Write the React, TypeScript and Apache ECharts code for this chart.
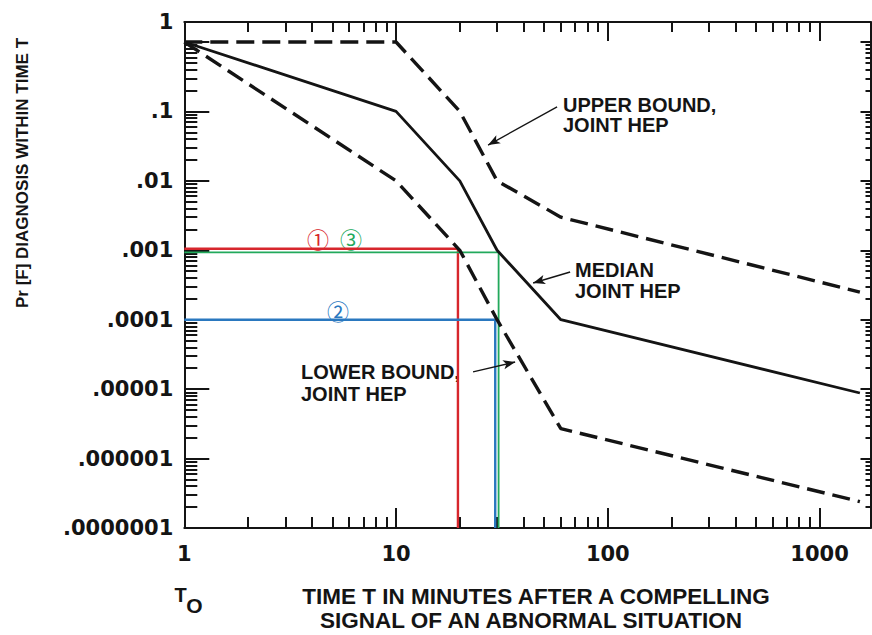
import React, { useEffect, useRef } from 'react';
import * as echarts from 'echarts';

// ---- data (time in minutes, probability of failure) ----
const timeMinutes = [1, 10, 20, 30, 60, 1550];
const upperBoundHEP = [1, 1, 0.1, 0.01, 0.003, 0.00025];
const medianHEP = [1, 0.1, 0.01, 0.001, 0.0001, 0.0000088];
const lowerBoundHEP = [1, 0.01, 0.001, 0.0001, 0.0000027, 0.00000024];

// coloured read-off guides (case 1 red, case 2 blue, case 3 green)
const case1Time = [1, 19.6, 19.6];
const case1Prob = [0.00105, 0.00105, 0.0000001];
const case2Time = [1, 29.4, 29.4];
const case2Prob = [0.0001, 0.0001, 0.0000001];
const case3Time = [1, 30.5, 30.5];
const case3Prob = [0.00093, 0.00093, 0.0000001];

// annotation arrows [fromTime, fromProb, toTime, toProb]
const upperArrow = [57.6, 0.116, 27.2, 0.0328];
const medianArrow = [66.4, 0.000487, 44.4, 0.000338];
const lowerArrow = [23.1, 0.0000177, 36.5, 0.0000246];

// axes
const xMajorTicks = [1, 10, 100, 1000];
const xTickLabels = ['1', '10', '100', '1000'];
const xMinorTicks = [2, 3, 4, 5, 6, 7, 8, 9, 20, 30, 40, 50, 60, 70, 80, 90, 200, 300, 400, 500, 600, 700, 800, 900];
const yMajorTicks = [0.0000001, 0.000001, 0.00001, 0.0001, 0.001, 0.01, 0.1, 1];
const yTickLabels = ['.0000001', '.000001', '.00001', '.0001', '.001', '.01', '.1', '1'];
const yMinorTicks = [
  2e-7, 3e-7, 4e-7, 5e-7, 6e-7, 7e-7, 8e-7, 9e-7,
  2e-6, 3e-6, 4e-6, 5e-6, 6e-6, 7e-6, 8e-6, 9e-6,
  2e-5, 3e-5, 4e-5, 5e-5, 6e-5, 7e-5, 8e-5, 9e-5,
  2e-4, 3e-4, 4e-4, 5e-4, 6e-4, 7e-4, 8e-4, 9e-4,
  2e-3, 3e-3, 4e-3, 5e-3, 6e-3, 7e-3, 8e-3, 9e-3,
  0.02, 0.03, 0.04, 0.05, 0.06, 0.07, 0.08, 0.09,
  0.2, 0.3, 0.4, 0.5, 0.6, 0.7, 0.8, 0.9,
];
const X_MIN = 1;
const X_MAX = 1740;
const Y_MIN = 0.0000001;
const Y_MAX = 1.94;

const INK = '#141414';
const RED = '#d7262c';
const GREEN = '#22a95c';
const BLUE = '#2a78bf';

const zip = (xs: number[], ys: number[]) => xs.map((x, i) => [x, ys[i]]);
const findLabel = (v: number, ticks: number[], labels: string[]) => {
  for (let i = 0; i < ticks.length; i++) {
    if (Math.abs(Math.log10(v) - Math.log10(ticks[i])) < 1e-6) return labels[i];
  }
  return '';
};

const tickFont = { fontFamily: '"DejaVu Sans"', fontWeight: 'bold' as const, fontSize: 21, color: INK };
const annFont = { fontFamily: '"Liberation Sans", Arial', fontWeight: 'bold', fontSize: 20, fill: INK };

function buildOption(): any {
  const baseX = { type: 'log', logBase: 10, min: X_MIN, max: X_MAX, gridIndex: 0, splitLine: { show: false } };
  const baseY = { type: 'log', logBase: 10, min: Y_MIN, max: Y_MAX, gridIndex: 0, splitLine: { show: false } };
  const arrowLine = (a: number[]) => [{ coord: [a[0], a[1]] }, { coord: [a[2], a[3]] }];
  const annText = (text: string, x: number, y: number, extra: any = {}) => ({
    type: 'text', x, y, silent: true,
    style: { text, align: 'left', verticalAlign: 'middle', ...annFont, ...extra },
  });
  const circled = (text: string, x: number, y: number, fill: string) => ({
    type: 'text', x, y, silent: true,
    style: { text, align: 'center', verticalAlign: 'middle', fontSize: 22, fontFamily: '"Noto Sans CJK JP", "DejaVu Sans"', fill },
  });
  return {
    animation: false,
    backgroundColor: '#ffffff',
    grid: { left: 184.3, right: 1.5, top: 22, bottom: 107, containLabel: false },
    xAxis: [
      {
        ...baseX, position: 'bottom',
        axisLine: { show: true, lineStyle: { color: INK, width: 2 } },
        axisTick: { show: true, inside: true, length: 20, customValues: xMajorTicks, lineStyle: { color: INK, width: 2 } },
        axisLabel: {
          show: true, customValues: xMajorTicks, margin: 15, ...tickFont,
          formatter: (v: number) => findLabel(v, xMajorTicks, xTickLabels),
        },
      },
      {
        ...baseX, position: 'bottom',
        axisLine: { show: false },
        axisTick: { show: true, inside: true, length: 11, customValues: xMinorTicks, lineStyle: { color: INK, width: 2 } },
        axisLabel: { show: false },
      },
      {
        ...baseX, position: 'top',
        axisLine: { show: true, lineStyle: { color: INK, width: 2 } },
        axisTick: { show: true, inside: true, length: 19, customValues: xMajorTicks, lineStyle: { color: INK, width: 2 } },
        axisLabel: { show: false },
      },
      {
        ...baseX, position: 'top',
        axisLine: { show: false },
        axisTick: { show: true, inside: true, length: 10, customValues: xMinorTicks, lineStyle: { color: INK, width: 2 } },
        axisLabel: { show: false },
      },
    ],
    yAxis: [
      {
        ...baseY, position: 'left',
        axisLine: { show: true, lineStyle: { color: INK, width: 2 } },
        axisTick: { show: true, inside: true, length: 25, customValues: yMajorTicks, lineStyle: { color: INK, width: 2 } },
        axisLabel: {
          show: true, customValues: yMajorTicks, margin: 11, ...tickFont,
          formatter: (v: number) => {
            const s = findLabel(v, yMajorTicks, yTickLabels);
            return s === '1' ? '{top|1}' : s;
          },
          rich: { top: { ...tickFont, padding: [0, 0, 40, 0] } },
        },
      },
      {
        ...baseY, position: 'left',
        axisLine: { show: false },
        axisTick: { show: true, inside: true, length: 13, customValues: yMinorTicks, lineStyle: { color: INK, width: 2 } },
        axisLabel: { show: false },
      },
      {
        ...baseY, position: 'right',
        axisLine: { show: true, lineStyle: { color: INK, width: 2 } },
        axisTick: { show: true, inside: true, length: 10, customValues: yMajorTicks, lineStyle: { color: INK, width: 2 } },
        axisLabel: { show: false },
      },
      {
        ...baseY, position: 'right',
        axisLine: { show: false },
        axisTick: { show: true, inside: true, length: 5, customValues: yMinorTicks, lineStyle: { color: INK, width: 2 } },
        axisLabel: { show: false },
      },
    ],
    series: [
      {
        name: 'Case 1', type: 'line', xAxisIndex: 0, yAxisIndex: 0, symbol: 'none', silent: true, z: 2,
        data: zip(case1Time, case1Prob), lineStyle: { color: RED, width: 2.4 },
      },
      {
        name: 'Case 3', type: 'line', xAxisIndex: 0, yAxisIndex: 0, symbol: 'none', silent: true, z: 2,
        data: zip(case3Time, case3Prob), lineStyle: { color: GREEN, width: 1.8 },
      },
      {
        name: 'Case 2', type: 'line', xAxisIndex: 0, yAxisIndex: 0, symbol: 'none', silent: true, z: 2,
        data: zip(case2Time, case2Prob), lineStyle: { color: BLUE, width: 2.4 },
      },
      {
        name: 'Upper bound, joint HEP', type: 'line', xAxisIndex: 0, yAxisIndex: 0, symbol: 'none', silent: true, z: 3,
        data: zip(timeMinutes, upperBoundHEP), lineStyle: { color: INK, width: 3.4, type: [18, 8] },
        markLine: {
          silent: true, symbol: ['none', 'arrow'], symbolSize: [7, 12], label: { show: false },
          lineStyle: { color: INK, width: 1.4, type: 'solid' },
          data: [arrowLine(upperArrow), arrowLine(medianArrow), arrowLine(lowerArrow)],
        },
      },
      {
        name: 'Median joint HEP', type: 'line', xAxisIndex: 0, yAxisIndex: 0, symbol: 'none', silent: true, z: 3,
        data: zip(timeMinutes, medianHEP), lineStyle: { color: INK, width: 2.8 },
      },
      {
        name: 'Lower bound, joint HEP', type: 'line', xAxisIndex: 0, yAxisIndex: 0, symbol: 'none', silent: true, z: 3,
        data: zip(timeMinutes, lowerBoundHEP), lineStyle: { color: INK, width: 3.4, type: [18, 8] },
      },
    ],
    graphic: [
      annText('UPPER BOUND,', 563, 105),
      annText('JOINT HEP', 563, 125),
      annText('MEDIAN', 575, 270),
      annText('JOINT HEP', 575, 291),
      annText('LOWER BOUND,', 301, 371.5),
      annText('JOINT HEP', 301, 393.5),
      circled('①', 318, 238, RED),
      circled('③', 351, 238, GREEN),
      circled('②', 338, 310, BLUE),
      { type: 'text', x: 180.5, y: 595, silent: true, style: { text: 'T', align: 'center', verticalAlign: 'middle', ...annFont } },
      { type: 'text', x: 194.5, y: 605, silent: true, style: { text: 'O', align: 'center', verticalAlign: 'middle', ...annFont, fontSize: 21 } },
      { type: 'text', x: 536, y: 596, silent: true, style: { text: 'TIME T IN MINUTES AFTER A COMPELLING', align: 'center', verticalAlign: 'middle', ...annFont, fontSize: 22.5 } },
      { type: 'text', x: 531, y: 620, silent: true, style: { text: 'SIGNAL OF AN ABNORMAL SITUATION', align: 'center', verticalAlign: 'middle', ...annFont, fontSize: 22.5 } },
      { type: 'text', x: 22, y: 173, rotation: Math.PI / 2, silent: true, style: { text: 'Pr [F] DIAGNOSIS WITHIN TIME T', align: 'center', verticalAlign: 'middle', ...annFont, fontSize: 17 } },
    ],
  };
}

export default function App() {
  const ref = useRef<HTMLDivElement>(null);
  useEffect(() => {
    if (!ref.current) return;
    const chart = echarts.init(ref.current, null, { renderer: 'svg' });
    chart.setOption(buildOption());
    return () => chart.dispose();
  }, []);
  return (
    <div
      ref={ref}
      style={{ position: 'absolute', left: 0, top: 0, width: 872, height: 635, background: '#fff' }}
    />
  );
}
